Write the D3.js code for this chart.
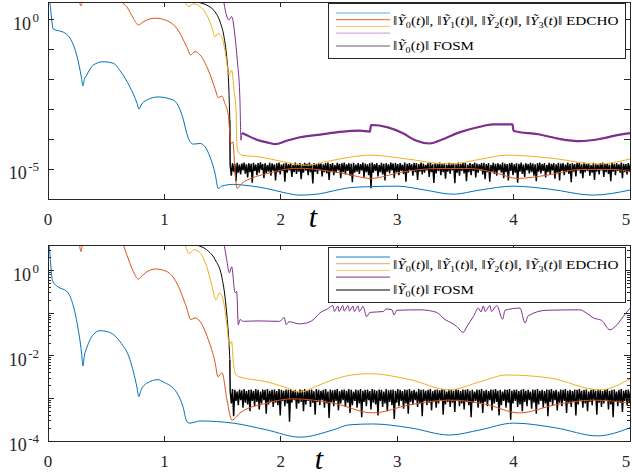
<!DOCTYPE html>
<html>
<head>
<meta charset="utf-8">
<script src="https://cdn.jsdelivr.net/npm/d3@7"></script>
<style>
body { margin: 0; background: #fff; }
text { font-family: "Liberation Serif", "DejaVu Serif", serif; fill: #262626; }
</style>
</head>
<body>
<div id="chart"></div>
<script>
// all values are [t, log10 of the norm]

// ---- top panel ----
let ed0Top = [[0,0.9],[0.015,0.6],[0.046,-0.31],[0.089,-0.36],[0.132,-0.41],[0.189,-0.61],[0.246,-1.17],[0.289,-1.96],[0.30,-2.21],[0.312,-2.0],[0.332,-1.85],[0.389,-1.51],[0.475,-1.40],[0.561,-1.45],[0.619,-1.70],[0.704,-2.25],[0.765,-2.79],[0.782,-2.99],[0.80,-2.85],[0.851,-2.68],[0.945,-2.58],[1.074,-2.68],[1.16,-3.30],[1.192,-3.80],[1.22,-4.08],[1.248,-4.16],[1.306,-4.14],[1.349,-4.25],[1.392,-4.59],[1.435,-5.14],[1.463,-5.65],[1.492,-5.57],[1.592,-5.51],[1.735,-5.56],[1.879,-5.65],[2.021,-5.78],[2.165,-5.87],[2.308,-5.84],[2.449,-5.73],[2.594,-5.62],[2.74,-5.59],[3.0,-5.57],[3.24,-5.70],[3.48,-5.84],[3.71,-5.70],[3.995,-5.57],[4.31,-5.67],[4.68,-5.87],[5.0,-5.70]];
let ed1Top = [[0,0.38],[0.015,0.75],[0.26,0.75],[0.283,0.47],[0.305,0.75],[0.62,0.75],[0.633,0.62],[0.676,0.45],[0.733,0.06],[0.776,-0.17],[0.819,-0.06],[0.919,0.06],[1.02,-0.02],[1.106,-0.28],[1.192,-0.90],[1.226,-1.17],[1.263,-1.06],[1.306,-1.17],[1.377,-1.68],[1.435,-2.30],[1.463,-2.60],[1.492,-2.55],[1.52,-2.80],[1.549,-3.19],[1.572,-4.13],[1.589,-4.09],[1.606,-5.03],[1.624,-5.64],[1.667,-5.47],[1.75,-5.30],[1.881,-5.15],[2.05,-5.00],[2.165,-4.97],[2.35,-5.03],[2.55,-5.15],[2.77,-5.31],[3.05,-5.09],[3.34,-4.98],[3.63,-4.98],[3.86,-5.14],[4.03,-5.31],[4.29,-5.20],[4.57,-5.01],[4.86,-5.01],[5.0,-5.09]];
let ed2Top = [[1.10,0.75],[1.163,0.67],[1.192,0.50],[1.211,0.45],[1.249,0.54],[1.306,0.45],[1.363,0.17],[1.406,-0.22],[1.435,-0.56],[1.463,-0.45],[1.492,-0.56],[1.529,-1.23],[1.555,-1.85],[1.578,-1.68],[1.598,-2.35],[1.615,-3.02],[1.624,-4.26],[1.641,-4.46],[1.667,-4.53],[1.82,-4.59],[2.02,-4.75],[2.22,-4.87],[2.40,-4.74],[2.59,-4.60],[2.77,-4.53],[3.05,-4.64],[3.45,-4.83],[3.71,-4.67],[3.94,-4.53],[4.34,-4.64],[4.72,-4.83],[5.0,-4.66]];
let ed3Top = [[1.49,0.8],[1.506,0.67],[1.529,0.22],[1.555,0.0],[1.578,0.11],[1.607,-0.56],[1.626,-1.34],[1.649,-2.68],[1.658,-4.03],[1.667,-3.79],[1.70,-3.85],[1.80,-4.02],[1.88,-4.10],[1.95,-4.16],[2.05,-4.05],[2.165,-3.93],[2.34,-3.84],[2.51,-3.75],[2.68,-3.71],[2.766,-3.74],[2.775,-3.52],[2.92,-3.60],[3.05,-3.80],[3.16,-4.04],[3.28,-4.14],[3.37,-4.03],[3.54,-3.76],[3.71,-3.58],[3.82,-3.50],[3.99,-3.50],[4.0,-3.72],[4.21,-3.83],[4.40,-3.99],[4.57,-4.06],[4.74,-3.99],[4.90,-3.85],[5.0,-3.79]];
let fosmTop = [[1.20,0.75],[1.277,0.61],[1.363,0.50],[1.42,0.34],[1.478,-0.06],[1.512,-0.56],[1.535,-1.23],[1.552,-2.12],[1.562,-3.36]];
let fosmNoiseTop = [
 -4.86,-5.22,-4.80,-5.08,-4.83,-5.40,-4.79,-5.12,-4.85,-5.18,-4.81,-5.04,-4.78,-5.15,-4.84,-5.28,-4.80,-5.10,-4.82,-5.45,
 -4.79,-5.06,-4.85,-5.20,-4.80,-5.12,-4.77,-5.02,-4.83,-5.30,-4.80,-5.14,-4.86,-5.08,-4.79,-5.22,-4.81,-5.05,-4.84,-5.38,
 -4.80,-5.10,-4.78,-5.18,-4.85,-5.06,-4.81,-5.42,-4.79,-5.12,-4.83,-5.04,-4.80,-5.26,-4.86,-5.10,-4.78,-5.16,-4.82,-5.08,
 -4.80,-5.34,-4.84,-5.12,-4.79,-5.05,-4.82,-5.20,-4.78,-5.10,-4.85,-5.48,-4.80,-5.08,-4.83,-5.16,-4.79,-5.04,-4.81,-5.24,
 -4.84,-5.10,-4.80,-5.14,-4.78,-5.36,-4.83,-5.06,-4.80,-5.20,-4.86,-5.12,-4.79,-5.04,-4.82,-5.30,-4.80,-5.10,-4.78,-5.18,
 -4.84,-5.06,-4.80,-5.22,-4.82,-5.44,-4.79,-5.12,-4.85,-5.08,-4.80,-5.16,-4.83,-5.04,-4.78,-5.28,-4.81,-5.10,-4.84,-5.20,
 -4.80,-5.64,-4.78,-5.12,-4.83,-5.06,-4.80,-5.24,-4.86,-5.10,-4.79,-5.18,-4.82,-5.38,-4.80,-5.08,-4.84,-5.14,-4.78,-5.04,
 -4.81,-5.30,-4.79,-5.10,-4.83,-5.20,-4.80,-5.06,-4.85,-5.16,-4.78,-5.42,-4.82,-5.12,-4.80,-5.04,-4.84,-5.22,-4.79,-5.10,
 -4.80,-5.36,-4.83,-5.08,-4.78,-5.18,-4.81,-5.12,-4.86,-5.04,-4.80,-5.26,-4.79,-5.10,-4.84,-5.46,-4.80,-5.14,-4.82,-5.06,
 -4.78,-5.20,-4.83,-5.10,-4.80,-5.32,-4.85,-5.08,-4.79,-5.16,-4.81,-5.04,-4.80,-5.47,-4.84,-5.12,-4.78,-5.22,-4.82,-5.06,
 -4.80,-5.14,-4.79,-5.40,-4.85,-5.10,-4.80,-5.20,-4.83,-5.06,-4.78,-5.28,-4.81,-5.12,-4.84,-5.04,-4.80,-5.18,-4.79,-5.34,
 -4.83,-5.10,-4.80,-5.42,-4.86,-5.08,-4.79,-5.16,-4.82,-5.22,-4.80,-5.04,-4.84,-5.12,-4.78,-5.30,-4.81,-5.10,-4.83,-5.38,
 -4.80,-5.06,-4.79,-5.20,-4.84,-5.12,-4.80,-5.45,-4.82,-5.08,-4.78,-5.16,-4.85,-5.26,-4.80,-5.04,-4.83,-5.14,-4.79,-5.10,
 -4.81,-5.22,-4.84,-5.40,-4.80,-5.08,-4.78,-5.14,-4.83,-5.06,-4.80,-5.28,-4.86,-5.10,-4.79,-5.18,-4.82,-5.04,-4.80,-5.32,
 -4.84,-5.12,-4.79,-5.38,-4.81,-5.06,-4.80,-5.20,-4.85,-5.10,-4.78,-5.16,-4.82,-5.44,-4.80,-5.08,-4.83,-5.24,-4.79,-5.04,
 -4.80,-5.14,-4.84,-5.30,-4.78,-5.10,-4.82,-5.06,-4.80,-5.22,-4.86,-5.12,-4.79,-5.36,-4.81,-5.08,-4.84,-5.18,-4.80,-5.04,
 -4.78,-5.26,-4.83,-5.10,-4.80,-5.16,-4.85,-5.40,-4.79,-5.08,-4.82,-5.20,-4.80,-5.06,-4.84,-5.12,-4.78,-5.30,-4.81,-5.10,
 -4.83,-5.18,-4.80,-5.08,-4.82];

// ---- bottom panel ----
let ed0Bot = [[0,0.9],[0.011,0.57],[0.04,-0.25],[0.086,-0.38],[0.163,-0.49],[0.249,-1.22],[0.289,-1.95],[0.30,-2.24],[0.312,-2.0],[0.332,-1.82],[0.389,-1.50],[0.447,-1.41],[0.53,-1.45],[0.619,-1.67],[0.704,-2.09],[0.765,-2.75],[0.78,-2.96],[0.80,-2.80],[0.851,-2.64],[0.945,-2.56],[0.988,-2.61],[1.108,-2.87],[1.16,-3.20],[1.194,-3.55],[1.22,-3.58],[1.306,-3.53],[1.589,-3.58],[1.88,-3.74],[2.165,-3.91],[2.45,-3.74],[2.59,-3.62],[2.79,-3.60],[3.11,-3.69],[3.45,-3.86],[3.71,-3.74],[4.0,-3.58],[4.36,-3.69],[4.72,-3.88],[5.0,-3.69]];
let ed1Bot = [[0,0.38],[0.015,0.75],[0.26,0.75],[0.283,0.45],[0.305,0.75],[0.62,0.75],[0.633,0.70],[0.676,0.38],[0.733,-0.02],[0.776,-0.20],[0.819,-0.09],[0.919,0.04],[1.02,-0.02],[1.106,-0.29],[1.192,-0.88],[1.226,-1.15],[1.263,-1.11],[1.306,-1.19],[1.377,-1.62],[1.435,-2.15],[1.46,-2.49],[1.495,-2.40],[1.538,-3.04],[1.58,-3.51],[1.65,-3.34],[1.88,-3.11],[2.10,-3.01],[2.45,-3.11],[2.79,-3.34],[3.11,-3.15],[3.45,-3.04],[3.75,-3.13],[4.05,-3.34],[4.36,-3.15],[4.68,-3.04],[5.0,-3.11]];
let ed2Bot = [[1.10,0.75],[1.163,0.70],[1.192,0.49],[1.211,0.40],[1.254,0.49],[1.306,0.42],[1.363,0.10],[1.406,-0.33],[1.443,-0.68],[1.472,-0.52],[1.50,-0.64],[1.535,-1.23],[1.558,-1.74],[1.578,-1.66],[1.59,-2.09],[1.615,-2.45],[1.64,-2.49],[1.88,-2.61],[2.05,-2.75],[2.165,-2.85],[2.30,-2.72],[2.45,-2.56],[2.59,-2.46],[2.77,-2.42],[3.11,-2.56],[3.45,-2.80],[3.71,-2.61],[3.94,-2.45],[4.31,-2.52],[4.74,-2.80],[5.0,-2.54]];
let ed3Bot = [[1.49,0.75],[1.515,0.57],[1.535,0.26],[1.558,-0.05],[1.578,0.09],[1.607,-0.52],[1.621,-0.49],[1.635,-1.27],[1.649,-1.15],[1.68,-1.19],[1.80,-1.18],[1.99,-1.19],[2.03,-1.10],[2.045,-1.27],[2.07,-1.20],[2.11,-1.22],[2.15,-1.25],[2.22,-1.23],[2.28,-1.15],[2.337,-0.99],[2.40,-0.90],[2.448,-0.82],[2.46,-0.96],[2.491,-0.83],[2.50,-0.96],[2.534,-0.82],[2.545,-0.95],[2.577,-0.82],[2.59,-0.95],[2.62,-0.83],[2.632,-0.96],[2.663,-0.83],[2.675,-0.96],[2.706,-0.84],[2.738,-1.08],[2.766,-0.98],[2.88,-0.96],[2.904,-0.90],[2.955,-0.92],[2.973,-1.04],[2.996,-0.93],[3.196,-0.92],[3.339,-0.98],[3.411,-1.15],[3.468,-1.23],[3.511,-1.31],[3.568,-1.45],[3.597,-1.32],[3.654,-1.08],[3.697,-0.88],[3.72,-0.97],[3.74,-0.83],[3.755,-0.96],[3.797,-0.82],[3.81,-0.96],[3.855,-0.82],[3.906,-1.14],[3.926,-0.93],[4.055,-0.88],[4.098,-1.23],[4.126,-1.06],[4.284,-0.93],[4.57,-0.92],[4.628,-1.00],[4.685,-1.11],[4.757,-1.17],[4.828,-1.39],[4.871,-1.32],[4.942,-1.08],[5.0,-0.88]];
let fosmBot = [[1.20,0.75],[1.277,0.61],[1.363,0.49],[1.435,0.26],[1.492,-0.13],[1.52,-0.60],[1.54,-1.15],[1.555,-1.70],[1.562,-2.09]];
let fosmNoiseBot = [
 -2.82,-3.12,-2.78,-3.42,-2.80,-3.06,-2.84,-3.16,-2.79,-3.04,-2.81,-3.22,-2.78,-3.10,-2.83,-3.14,-2.80,-3.30,-2.79,-3.06,
 -2.82,-3.18,-2.78,-3.08,-2.80,-3.26,-2.84,-3.12,-2.79,-3.04,-2.80,-3.36,-2.78,-3.14,-2.82,-3.08,-2.80,-3.20,-2.79,-3.10,
 -2.83,-3.16,-2.78,-3.40,-2.80,-3.06,-2.82,-3.18,-2.79,-3.12,-2.80,-3.55,-2.78,-3.10,-2.83,-3.04,-2.80,-3.24,-2.84,-3.12,
 -2.79,-3.08,-2.81,-3.30,-2.78,-3.14,-2.82,-3.06,-2.80,-3.20,-2.79,-3.10,-2.83,-3.38,-2.78,-3.08,-2.80,-3.16,-2.82,-3.04,
 -2.80,-3.22,-2.78,-3.12,-2.84,-3.46,-2.79,-3.08,-2.81,-3.18,-2.80,-3.06,-2.78,-3.28,-2.83,-3.12,-2.80,-3.04,-2.79,-3.20,
 -2.82,-3.10,-2.78,-3.34,-2.80,-3.16,-2.84,-3.06,-2.79,-3.22,-2.81,-3.12,-2.78,-3.44,-2.82,-3.08,-2.80,-3.18,-2.79,-3.04,
 -2.83,-3.26,-2.78,-3.10,-2.80,-3.14,-2.82,-3.40,-2.79,-3.06,-2.80,-3.20,-2.84,-3.12,-2.78,-3.30,-2.81,-3.08,-2.80,-3.16,
 -2.79,-3.48,-2.82,-3.10,-2.78,-3.18,-2.80,-3.06,-2.83,-3.24,-2.79,-3.12,-2.80,-3.36,-2.78,-3.08,-2.82,-3.14,-2.80,-3.04,
 -2.84,-3.20,-2.78,-3.12,-2.80,-3.42,-2.79,-3.06,-2.82,-3.16,-2.80,-3.10,-2.78,-3.28,-2.83,-3.08,-2.80,-3.22,-2.79,-3.12,
 -2.81,-3.04,-2.78,-3.38,-2.80,-3.14,-2.84,-3.08,-2.79,-3.20,-2.80,-3.10,-2.82,-3.32,-2.78,-3.06,-2.80,-3.18,-2.83,-3.12,
 -2.79,-3.26,-2.80,-3.08,-2.78,-3.16,-2.82,-3.44,-2.80,-3.10,-2.84,-3.06,-2.79,-3.22,-2.80,-3.12,-2.78,-3.34,-2.82,-3.08,
 -2.80,-3.18,-2.83,-3.04,-2.79,-3.28,-2.80,-3.12,-2.78,-3.08,-2.82,-3.40,-2.80,-3.16,-2.84,-3.06,-2.79,-3.22,-2.80,-3.10,
 -2.78,-3.50,-2.82,-3.12,-2.80,-3.06,-2.79,-3.20,-2.83,-3.14,-2.80,-3.30,-2.78,-3.08,-2.82,-3.18,-2.80,-3.04,-2.84,-3.24,
 -2.79,-3.10,-2.80,-3.36,-2.78,-3.14,-2.82,-3.06,-2.80,-3.22,-2.83,-3.12,-2.79,-3.42,-2.80,-3.08,-2.78,-3.16,-2.82,-3.04,
 -2.80,-3.28,-2.84,-3.10,-2.79,-3.18,-2.80,-3.06,-2.78,-3.34,-2.82,-3.12,-2.80,-3.20,-2.83,-3.08,-2.79,-3.40,-2.80,-3.14,
 -2.78,-3.06,-2.82,-3.22,-2.80,-3.12,-2.79,-3.30,-2.84,-3.08,-2.80,-3.16,-2.78,-3.04,-2.82,-3.38,-2.80,-3.10,-2.79,-3.20,
 -2.83,-3.12,-2.80,-3.06,-2.78,-3.26,-2.82,-3.14,-2.80,-3.44,-2.79,-3.08,-2.84,-3.18,-2.80,-3.10,-2.78,-3.32,-2.82,-3.06,
 -2.80,-3.16,-2.79,-3.10,-2.82];
let noiseT0 = 1.565, noiseDt = 0.01;   // sampling of the noisy FOSM floor

let xTicks = [0, 1, 2, 3, 4, 5];
let seriesColors = ["#0072bd", "#d95319", "#edb120", "#7e2f8e"];

let svg = d3.select("#chart")
    .append("svg")
    .attr("width", 632)
    .attr("height", 474);

let x = d3.scaleLinear()
    .domain([0, 5])
    .range([48, 630]);

let panels = [
    {top: 2, bottom: 199, ymin: 1e-6, labels: [0, -5], minor: false, legendY: 3, tX: 313,
     ed: [ed0Top, ed1Top, ed2Top, ed3Top], fosm: fosmTop, noise: fosmNoiseTop, thickPurple: true,
     legendColors: ["#62ace0", "#e0622a", "#f2c46a", "#c49ad2", "#606060"]},
    {top: 245, bottom: 441, ymin: 1e-4, labels: [0, -2, -4], minor: true, legendY: 247, tX: 319,
     ed: [ed0Bot, ed1Bot, ed2Bot, ed3Bot], fosm: fosmBot, noise: fosmNoiseBot, thickPurple: false,
     legendColors: ["#1a7ec8", "#eba07c", "#f4cb78", "#7e2f8e", "#000000"]}
];

function addNorm(sel, k) {
    sel.append("tspan").text("\u2016");
    sel.append("tspan").style("font-style", "italic").text("\u1EF8");
    sel.append("tspan").attr("dy", 3).style("font-size", "8px").text(k);
    sel.append("tspan").attr("dy", -3).text("(");
    sel.append("tspan").style("font-style", "italic").text("t");
    sel.append("tspan").text(")\u2016");
}

function fitWidth(sel, x0, w) {
    let cur = sel.node().getComputedTextLength();
    sel.attr("transform", `translate(${x0},0) scale(${w / cur},1) translate(${-x0},0)`);
}

panels.forEach((p, pi) => {
    let y = d3.scaleLog()
        .domain([p.ymin, 4])
        .range([p.bottom, p.top]);

    svg.append("clipPath").attr("id", "clip" + pi)
        .append("rect")
        .attr("x", 48).attr("y", p.top)
        .attr("width", 582).attr("height", p.bottom - p.top);

    let plot = svg.append("g").attr("clip-path", `url(#clip${pi})`);

    let smooth = d3.line()
        .x(d => x(d[0]))
        .y(d => y(Math.pow(10, d[1])))
        .curve(d3.curveMonotoneX);
    let jagged = d3.line()
        .x(d => x(d[0]))
        .y(d => y(Math.pow(10, d[1])));

    //FOSM: smooth decay, then the noisy floor
    plot.append("path")
        .attr("d", smooth(p.fosm))
        .attr("fill", "none").attr("stroke", "#000").attr("stroke-width", 1);
    let noisePts = [p.fosm[p.fosm.length - 1]].concat(p.noise.map((v, i) => [noiseT0 + i * noiseDt, v]));
    plot.append("path")
        .attr("d", jagged(noisePts))
        .attr("fill", "none").attr("stroke", "#000")
        .attr("stroke-width", 1.45)
        .attr("stroke-linejoin", "bevel");

    //EDCHO norms
    p.ed.forEach((s, i) => {
        plot.append("path")
            .attr("d", smooth(s))
            .attr("fill", "none")
            .attr("stroke", seriesColors[i])
            .attr("stroke-width", 1);
    });
    if (p.thickPurple) {
        plot.append("path")
            .attr("d", smooth(p.ed[3].filter(d => d[0] >= 1.667)))
            .attr("fill", "none")
            .attr("stroke", seriesColors[3])
            .attr("stroke-width", 2.2);
    }

    //box + ticks
    let ax = svg.append("g")
        .attr("stroke", "#262626")
        .attr("shape-rendering", "crispEdges");
    ax.append("rect")
        .attr("x", 48).attr("y", p.top)
        .attr("width", 582).attr("height", p.bottom - p.top)
        .attr("fill", "none");

    xTicks.forEach(t => {
        ax.append("line").attr("x1", x(t)).attr("x2", x(t)).attr("y1", p.bottom).attr("y2", p.bottom - 5);
        ax.append("line").attr("x1", x(t)).attr("x2", x(t)).attr("y1", p.top).attr("y2", p.top + 5);
        svg.append("text")
            .attr("x", Math.min(x(t), 626))
            .attr("y", p.bottom + 26)
            .attr("text-anchor", "middle")
            .style("font-size", "17px")
            .text(t);
    });

    let e0 = Math.round(Math.log10(p.ymin));
    for (let e = e0; e <= 0; e++) {
        let yy = y(Math.pow(10, e));
        ax.append("line").attr("x1", 48).attr("x2", 54).attr("y1", yy).attr("y2", yy);
        ax.append("line").attr("x1", 630).attr("x2", 624).attr("y1", yy).attr("y2", yy);
        if (p.minor) {
            for (let k = 2; k <= 9; k++) {
                let v = k * Math.pow(10, e);
                if (v > 4) break;
                ax.append("line").attr("x1", 48).attr("x2", 51).attr("y1", y(v)).attr("y2", y(v));
                ax.append("line").attr("x1", 630).attr("x2", 627).attr("y1", y(v)).attr("y2", y(v));
            }
        }
        if (p.labels.includes(e)) {
            let lab = svg.append("text")
                .attr("x", 39)
                .attr("y", yy + 10)
                .attr("text-anchor", "end")
                .style("font-size", "18px");
            lab.append("tspan").text("10");
            lab.append("tspan").attr("dx", 1.5).attr("dy", -8).style("font-size", "13px").text(e);
        }
    }

    svg.append("text")
        .attr("x", p.tX)
        .attr("y", p.bottom + 28)
        .attr("text-anchor", "middle")
        .style("font-size", "30px")
        .style("font-style", "italic")
        .style("fill", "#000")
        .text("t");

    //legend
    let y0 = p.legendY;
    let lg = svg.append("g");
    lg.append("rect")
        .attr("x", 328.5).attr("y", y0 + 0.5)
        .attr("width", 297).attr("height", 55)
        .attr("fill", "#fff")
        .attr("stroke", "#262626");
    p.legendColors.forEach((c, i) => {
        let ly = i < 4 ? y0 + 10 + i * 6.7 : y0 + 43;
        lg.append("line")
            .attr("x1", 336).attr("x2", 390)
            .attr("y1", ly).attr("y2", ly)
            .attr("stroke", c).attr("stroke-width", 1);
    });
    let t1 = lg.append("text")
        .attr("x", 393).attr("y", y0 + 22)
        .style("font-size", "12px").style("fill", "#000");
    [0, 1, 2, 3].forEach(k => {
        addNorm(t1, k);
        if (k < 3) t1.append("tspan").text(", ");
    });
    t1.append("tspan").text(" EDCHO");
    fitWidth(t1, 393, 226);

    let t2 = lg.append("text")
        .attr("x", 393).attr("y", y0 + 47)
        .style("font-size", "12px").style("fill", "#000");
    addNorm(t2, 0);
    t2.append("tspan").text(" FOSM");
    fitWidth(t2, 393, 81);
});
</script>
</body>
</html>
